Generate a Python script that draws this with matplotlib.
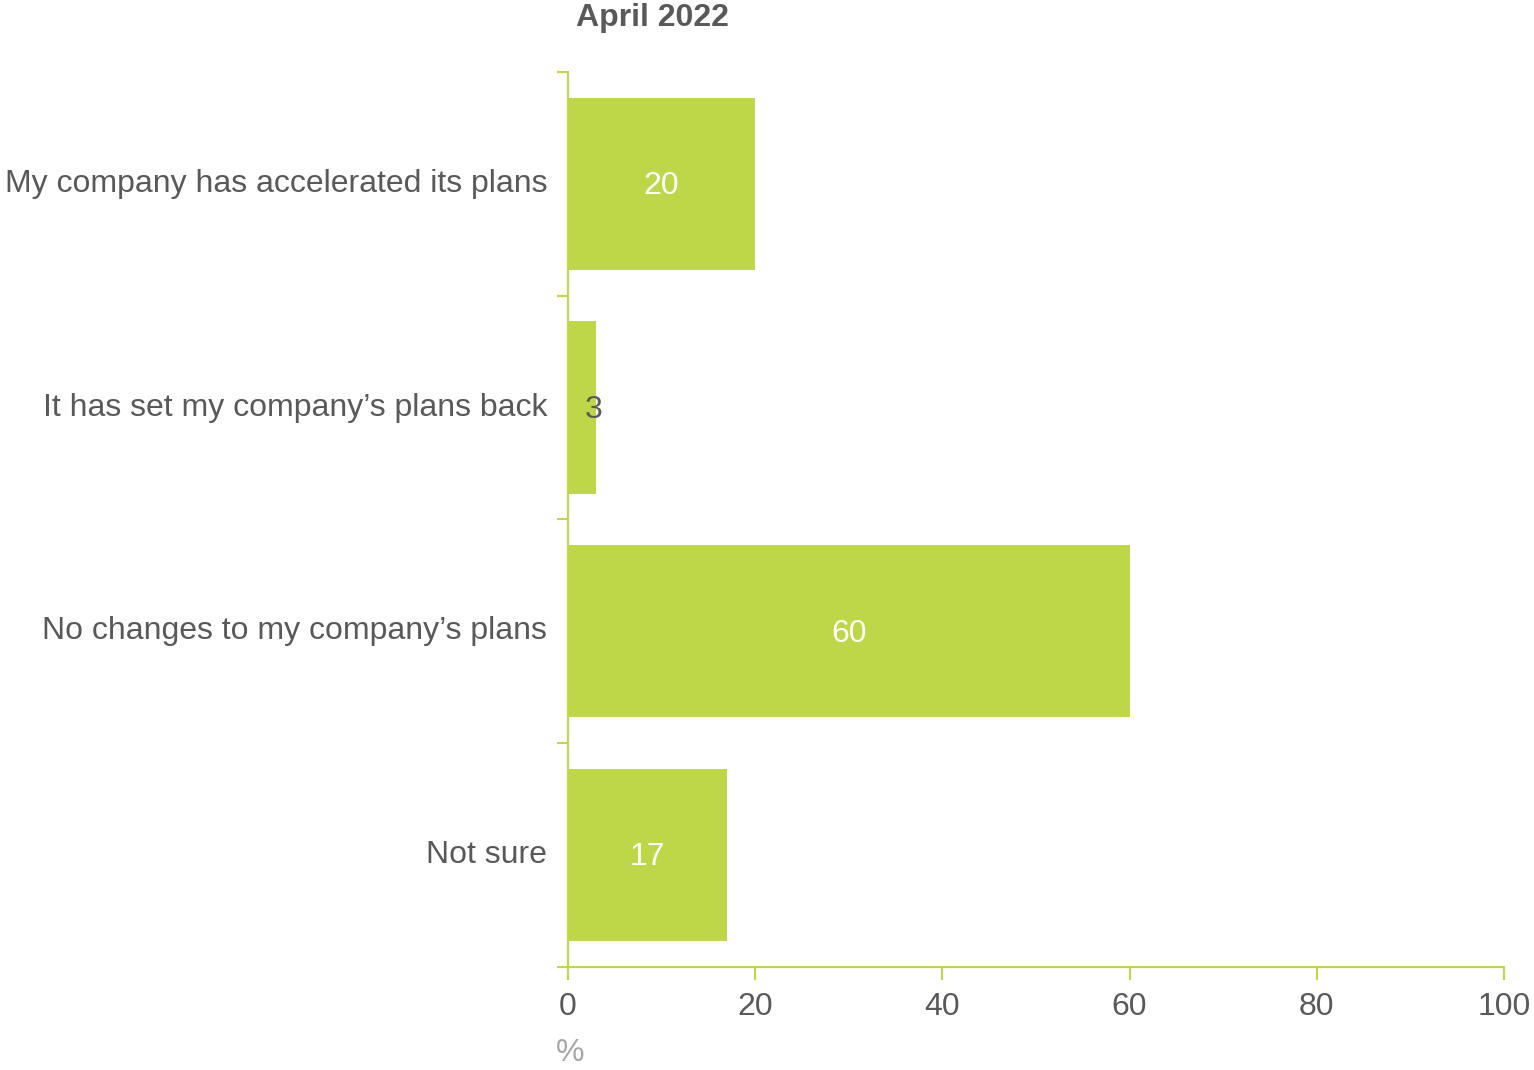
import numpy as np
import matplotlib
matplotlib.use('Agg')
import matplotlib.pyplot as plt

plt.rcParams['font.family'] = ['Liberation Sans', 'DejaVu Sans']

## 데이터
categories = ['My company has accelerated its plans',
              'It has set my company\u2019s plans back',
              'No changes to my company\u2019s plans',
              'Not sure']
values = [20, 3, 60, 17]
xticks = [0, 20, 40, 60, 80, 100]
title = 'April 2022'

green = '#BDD748'
text_gray = '#595959'
fs = 23

fig = plt.figure(figsize=(15.34, 10.70), dpi=100)
ax = fig.add_axes([0.3703, 0.0963, 0.6101, 0.8364])

y = np.arange(len(categories))
ax.barh(y, values, height=0.77, color=green)

# 막대 값 라벨
for yi, v in zip(y, values):
    if v < 5:
        ax.text(2.7, yi + 0.01, str(v), ha='center', va='center', fontsize=fs, color=text_gray)
    else:
        ax.text(v / 2, yi + 0.01, str(v), ha='center', va='center', fontsize=fs, color='white')

ax.set_xlim(0, 100)
ax.set_ylim(len(categories) - 0.5, -0.5)

ax.set_yticks(y)
ax.set_yticklabels(categories, fontsize=fs, color=text_gray, va='center')
for lbl in ax.get_yticklabels():
    lbl.set_y(lbl.get_position()[1])
ax.set_yticks(np.arange(len(categories) + 1) - 0.5, minor=True)
ax.tick_params(axis='y', which='major', length=0, pad=15)
ax.tick_params(axis='y', which='minor', length=8, width=1.5, color=green, direction='out')

ax.set_xticks(xticks)
ax.set_xticklabels([str(t) for t in xticks], fontsize=fs, color=text_gray)
ax.tick_params(axis='x', length=9, width=1.5, color=green, pad=9)

for s in ['top', 'right']:
    ax.spines[s].set_visible(False)
for s in ['left', 'bottom']:
    ax.spines[s].set_color(green)
    ax.spines[s].set_linewidth(1.5)

fig.text(652 / 1534, 1 - 18 / 1070, title, ha='center', va='center',
         fontsize=fs, fontweight='bold', color=text_gray)
fig.text(570 / 1534, 1 - 1053 / 1070, '%', ha='center', va='center',
         fontsize=fs, color='#A6A6A6')

fig.savefig('out.png', dpi=100)
